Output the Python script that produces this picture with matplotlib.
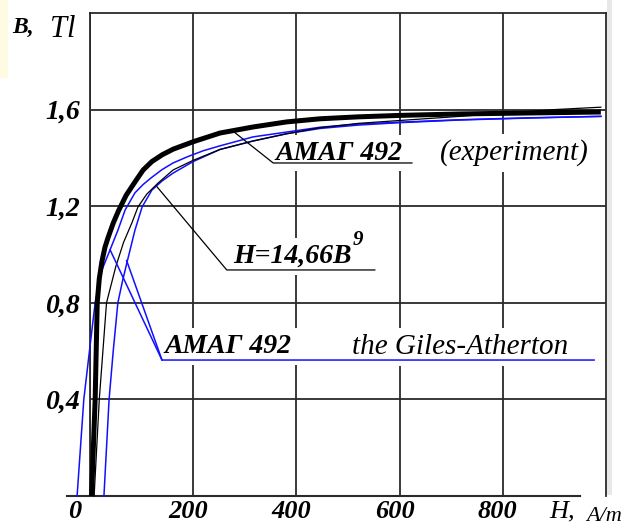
import matplotlib
matplotlib.use("Agg")
import matplotlib.pyplot as plt
import matplotlib.transforms as mtrans
from matplotlib.patches import Rectangle

# ---------------- data ----------------
# experiment, AMAG 492 (thick black)
exp_H = [3, 10, 14, 18, 23, 29, 35, 45, 55, 70, 87, 103, 120, 140, 161, 200, 252, 316, 381, 446, 520, 601, 717, 850, 990]
exp_B = [0.0, 0.4, 0.8, 0.9, 0.97, 1.03, 1.07, 1.13, 1.18, 1.245, 1.30, 1.35, 1.385, 1.413, 1.436, 1.467, 1.503, 1.528, 1.549, 1.562, 1.57, 1.576, 1.582, 1.586, 1.59]

# approximation H = 14,66 B^9 (thin black)
fit_H = [8, 18, 25, 32, 50, 65, 81, 93, 110, 132, 161, 200, 252, 316, 381, 446, 520, 601, 717, 800, 900, 990]
fit_B = [0.0, 0.4, 0.6, 0.8, 0.95, 1.05, 1.13, 1.197, 1.25, 1.296, 1.35, 1.39, 1.435, 1.47, 1.50, 1.525, 1.543, 1.555, 1.572, 1.585, 1.60, 1.61]

# Giles-Atherton model, two branches (blue)
ga1_H = [-25, -12, 0, 10, 22, 39, 54, 68, 87, 103, 120, 140, 161, 188, 220, 252, 316, 381, 446, 520, 601, 717, 850, 990]
ga1_B = [0.0, 0.4, 0.62, 0.8, 0.93, 1.02, 1.10, 1.184, 1.255, 1.29, 1.32, 1.352, 1.379, 1.404, 1.43, 1.45, 1.487, 1.507, 1.527, 1.54, 1.548, 1.558, 1.566, 1.572]
ga2_H = [27, 37, 45, 54, 63, 72, 87, 101, 120, 140, 161, 200, 252, 316, 381, 446, 520, 601, 717, 850, 990]
ga2_B = [0.0, 0.4, 0.6, 0.8, 0.89, 0.97, 1.10, 1.197, 1.267, 1.305, 1.337, 1.385, 1.435, 1.47, 1.50, 1.522, 1.536, 1.546, 1.557, 1.565, 1.572]

xticks = [0, 200, 400, 600, 800]
xtick_labels = ["0", "200", "400", "600", "800"]
yticks = [0.4, 0.8, 1.2, 1.6]
ytick_labels = ["0,4", "0,8", "1,2", "1,6"]

label_exp = "АМАГ 492"
label_exp2 = "(experiment)"
label_fit = "H=14,66B"
label_fit_pow = "9"
label_ga = "АМАГ 492"
label_ga2 = "the Giles-Atherton"

# ---------------- figure ----------------
W, H = 638, 525
fig = plt.figure(figsize=(W / 100, H / 100), dpi=100)
fig.patch.set_facecolor("white")

def fx(px):
    return px / W

def fy(py):
    return 1 - py / H

# scan remnants
fig.patches.append(Rectangle((0, fy(78)), fx(8), 78 / H, transform=fig.transFigure,
                             facecolor="#fffbe3", edgecolor="none", zorder=0))
fig.patches.append(Rectangle((fx(607), fy(495)), fx(5), 495 / H, transform=fig.transFigure,
                             facecolor="#e8e8e8", edgecolor="none", zorder=0))

ax = fig.add_axes([fx(90), fy(496), fx(606) - fx(90), (496 - 13) / H])
ax.set_xlim(0, 1000)
ax.set_ylim(0, 2.0)

serif = "Liberation Serif"
gridc = "#2a2a2a"

for s in ["left", "top", "right"]:
    ax.spines[s].set_color(gridc)
    ax.spines[s].set_linewidth(1.3)
ax.spines["bottom"].set_visible(False)
ax.plot([-45, 950], [0, 0], color=gridc, lw=1.5, clip_on=False, zorder=2)

ax.set_xticks(xticks, xtick_labels)
ax.set_yticks(yticks, ytick_labels)
ax.tick_params(length=0)
ax.tick_params(axis="x", pad=3)
ax.tick_params(axis="y", pad=7)
for lab in ax.get_xticklabels() + ax.get_yticklabels():
    lab.set_fontfamily(serif)
    lab.set_fontweight("bold")
    lab.set_fontstyle("italic")
    lab.set_fontsize(20)
for lab in ax.get_xticklabels():
    lab.set_fontsize(19)
xl = ax.get_xticklabels()
xl[0].set_transform(xl[0].get_transform() + mtrans.ScaledTranslation(-15 / 100, 0, fig.dpi_scale_trans))
for lab in xl[1:]:
    lab.set_transform(lab.get_transform() + mtrans.ScaledTranslation(-5 / 100, 0, fig.dpi_scale_trans))

ax.grid(True, color=gridc, lw=1.3, zorder=0.5)
ax.set_axisbelow(True)

# curves
blue = "#1010ff"
ax.plot(ga1_H, ga1_B, color=blue, lw=1.1, clip_on=False, zorder=4)
ax.plot(ga2_H, ga2_B, color=blue, lw=1.1, clip_on=False, zorder=4)
ax.plot(fit_H, fit_B, color="black", lw=0.9, clip_on=False, zorder=4)
ax.plot(exp_H, exp_B, color="black", lw=3.6, clip_on=False, zorder=5,
        solid_joinstyle="round", solid_capstyle="butt")

# annotations with leaders
box = dict(facecolor="white", edgecolor="none", pad=4)
tkw = dict(family=serif, style="italic", zorder=3)

# experiment
ax.plot([277, 355, 624], [1.511, 1.379, 1.379], color="black", lw=0.9, zorder=6)
ax.text(360, 1.392, label_exp, fontsize=20, weight="bold", va="baseline", ha="left", bbox=box, **tkw)
ax.text(678, 1.392, label_exp2, fontsize=21, va="baseline", ha="left", bbox=box, **tkw)

# fit formula
ax.plot([130, 265, 552], [1.28, 0.936, 0.936], color="black", lw=0.9, zorder=6)
tf = ax.text(277, 0.965, label_fit, fontsize=20, weight="bold", va="baseline", ha="left", bbox=box, **tkw)
ax.annotate(label_fit_pow, xy=(1, 1), xycoords=tf, xytext=(1, -4), textcoords="offset points",
            fontsize=15, weight="bold", va="bottom", ha="left", family=serif, style="italic", zorder=3)

# Giles-Atherton
ax.plot([39, 139.5, 977], [1.019, 0.563, 0.563], color=blue, lw=1.1, zorder=6)
ax.plot([71, 139.5], [0.975, 0.563], color=blue, lw=1.1, zorder=6)
ax.text(145, 0.592, label_ga, fontsize=20, weight="bold", va="baseline", ha="left", bbox=box, **tkw)
ax.text(508, 0.588, label_ga2, fontsize=21, va="baseline", ha="left", bbox=box, **tkw)

# axis labels
fig.text(fx(12), fy(33), "B,", family=serif, style="italic", weight="bold", fontsize=17, va="baseline")
fig.text(fx(50), fy(37), "Tl", family=serif, style="italic", fontsize=22, va="baseline")
fig.text(fx(549), fy(517), "H,", family=serif, style="italic", fontsize=19, va="baseline")
fig.text(fx(586), fy(521), "A/m", family=serif, style="italic", fontsize=16, va="baseline")

fig.savefig("out.png", dpi=100)
